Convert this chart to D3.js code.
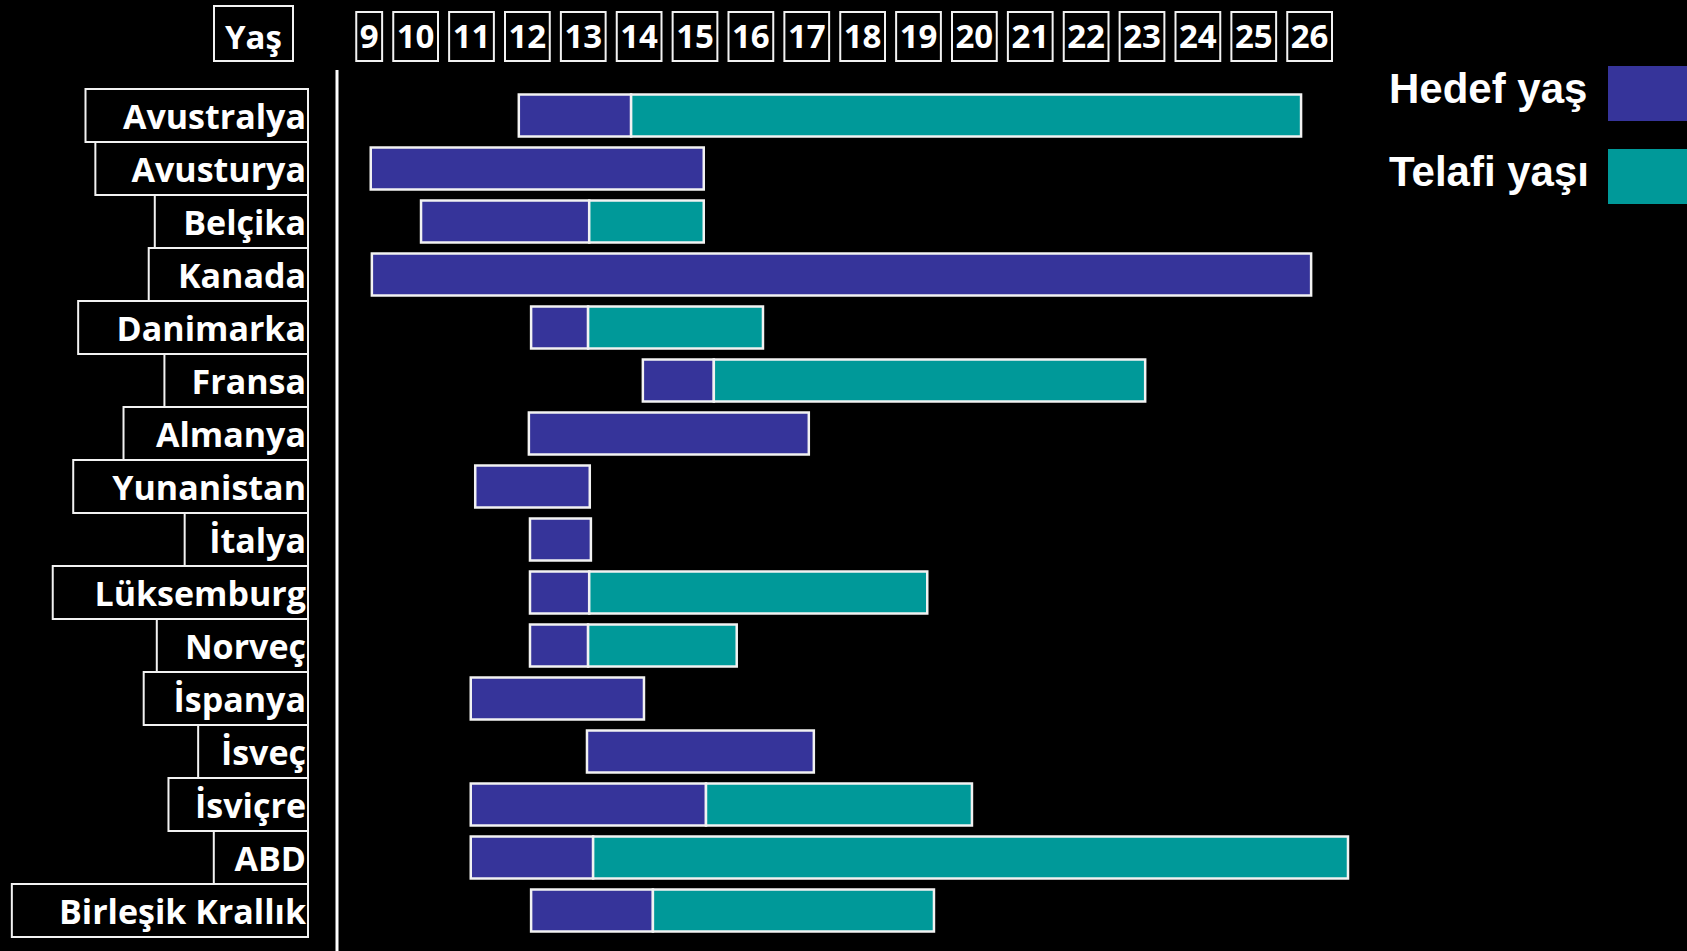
<!DOCTYPE html>
<html>
<head>
<meta charset="utf-8">
<script src="https://cdn.jsdelivr.net/npm/d3@7"></script>
<style>
  body { margin: 0; background: #000; }
  svg { display: block; }
</style>
</head>
<body>
<div id="chart"></div>
<script>

// veriler
var countries = ["Avustralya", "Avusturya", "Belçika", "Kanada", "Danimarka", "Fransa",
	"Almanya", "Yunanistan", "İtalya", "Lüksemburg", "Norveç", "İspanya",
	"İsveç", "İsviçre", "ABD", "Birleşik Krallık"];

// yaş başlangıcı, hedef yaşın sonu, telafi yaşının sonu (null = yok)
var startAge  = [11.84, 9.19, 10.09, 9.21, 12.06, 14.06, 12.02, 11.06, 12.04, 12.04, 12.04, 10.98, 13.06, 10.98, 10.98, 12.06];
var hedefEnd  = [13.85, 15.15, 13.10, 26.02, 13.08, 15.33, 17.03, 13.11, 13.13, 13.10, 13.08, 14.08, 17.12, 15.19, 13.17, 14.24];
var telafiEnd = [25.84, null, 15.15, null, 16.21, 23.05, null, null, null, 19.15, 15.74, null, null, 19.95, 26.68, 19.27];

var ageTicks = [9, 10, 11, 12, 13, 14, 15, 16, 17, 18, 19, 20, 21, 22, 23, 24, 25, 26];

var legendNames = ["Hedef yaş", "Telafi yaşı"];

// global
var svg_w = 1687;
var svg_h = 951;
var purple = "#36349a";
var teal = "#009999";
var colors = [purple, teal];
var labelFont = "'Open Sans', 'Noto Sans', sans-serif";

var svg = d3.select("#chart")
	.append("svg")
	.attr("width", svg_w)
	.attr("height", svg_h)
	.style("background", "#000");

// escalas
var x = d3.scaleLinear()
	.domain([10, 26])
	.range([416, 1310]);

var y = d3.scaleBand()
	.domain(countries)
	.range([89, 937])
	.padding(0);

var barH = 42;
var barOff = (y.bandwidth() - barH) / 2;

var rows = countries.map(function(c, i) {
	return {name: c, s: startAge[i], h: hedefEnd[i], t: telafiEnd[i]};
});

// başlık "Yaş"
svg.append("rect")
	.attr("x", 214).attr("y", 6)
	.attr("width", 79).attr("height", 55)
	.attr("fill", "none")
	.attr("stroke", "#f2f2f2")
	.attr("stroke-width", 2);
svg.append("text")
	.attr("x", 253.5).attr("y", 49)
	.attr("text-anchor", "middle")
	.attr("fill", "#fff")
	.style("font-family", labelFont)
	.style("font-weight", 700)
	.style("font-size", "33px")
	.text("Yaş");

// yaş kutuları (sağa hizalı, kutunun sağ kenarı x(d)+22)
var tickG = svg.selectAll("g.tick")
	.data(ageTicks)
	.enter()
	.append("g")
	.attr("class", "tick")
	.attr("transform", function(d) { return "translate(" + (x(d) + 22) + ",0)"; });

tickG.append("text")
	.attr("x", -3.5)
	.attr("y", 48)
	.attr("text-anchor", "end")
	.attr("fill", "#fff")
	.style("font-family", labelFont)
	.style("font-weight", 700)
	.style("font-size", "33px")
	.text(function(d) { return d; });

tickG.insert("rect", "text")
	.attr("y", 12)
	.attr("height", 49)
	.attr("fill", "none")
	.attr("stroke", "#f2f2f2")
	.attr("stroke-width", 2)
	.each(function() {
		var w = this.parentNode.querySelector("text").getComputedTextLength() + 7;
		d3.select(this).attr("x", -w).attr("width", w);
	});

// dikey çizgi
svg.append("line")
	.attr("x1", 337).attr("x2", 337)
	.attr("y1", 70).attr("y2", svg_h)
	.attr("stroke", "#fff")
	.attr("stroke-width", 3);

// ülke etiketleri
var labelG = svg.selectAll("g.label")
	.data(rows)
	.enter()
	.append("g")
	.attr("class", "label");

labelG.append("text")
	.attr("x", 306)
	.attr("y", function(d) { return y(d.name) + y.bandwidth() / 2 + 13; })
	.attr("text-anchor", "end")
	.attr("fill", "#fff")
	.style("font-family", labelFont)
	.style("font-weight", 700)
	.style("font-size", "34px")
	.text(function(d) { return d.name; });

labelG.insert("rect", "text")
	.attr("y", function(d) { return y(d.name); })
	.attr("height", y.bandwidth())
	.attr("fill", "#000")
	.attr("stroke", "#f2f2f2")
	.attr("stroke-width", 2)
	.each(function() {
		var w = this.parentNode.querySelector("text").getComputedTextLength() * 1.15 + 12;
		d3.select(this).attr("x", 308 - w).attr("width", w);
	});

// barras
var barG = svg.selectAll("g.bar")
	.data(rows)
	.enter()
	.append("g")
	.attr("class", "bar")
	.attr("transform", function(d) { return "translate(0," + (y(d.name) + barOff) + ")"; });

barG.append("rect")
	.attr("x", function(d) { return x(d.s); })
	.attr("width", function(d) { return x(d.h) - x(d.s); })
	.attr("height", barH)
	.attr("fill", purple)
	.attr("stroke", "#f2f2f2")
	.attr("stroke-width", 2.5);

barG.filter(function(d) { return d.t != null; })
	.append("rect")
	.attr("x", function(d) { return x(d.h); })
	.attr("width", function(d) { return x(d.t) - x(d.h); })
	.attr("height", barH)
	.attr("fill", teal)
	.attr("stroke", "#f2f2f2")
	.attr("stroke-width", 2.5);

// leyenda
var legG = svg.selectAll("g.legend")
	.data(legendNames)
	.enter()
	.append("g")
	.attr("class", "legend")
	.attr("transform", function(d, i) { return "translate(0," + (i * 83) + ")"; });

legG.append("text")
	.attr("x", 1389)
	.attr("y", 103)
	.attr("fill", "#fff")
	.style("font-family", "'Liberation Sans', Arial, sans-serif")
	.style("font-weight", 700)
	.style("font-size", "42px")
	.text(function(d) { return d; });

legG.append("rect")
	.attr("x", 1608)
	.attr("y", 66)
	.attr("width", 90)
	.attr("height", 55)
	.attr("fill", function(d, i) { return colors[i]; });

</script>
</body>
</html>
